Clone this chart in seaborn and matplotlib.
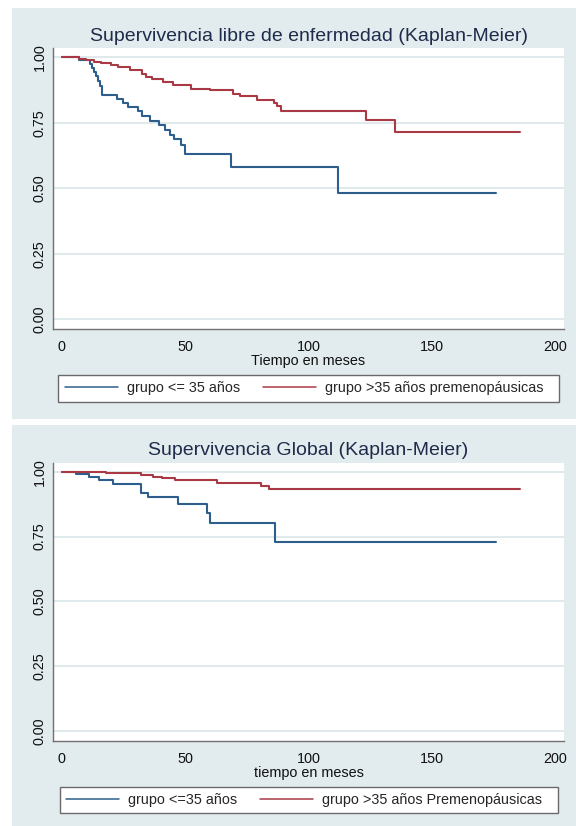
import matplotlib
matplotlib.use("Agg")
import matplotlib.pyplot as plt
from matplotlib.patches import Rectangle
from matplotlib.lines import Line2D
import seaborn as sns
import pandas as pd

# ---------------- data ----------------
titulo_1 = "Supervivencia libre de enfermedad (Kaplan-Meier)"
titulo_2 = "Supervivencia Global (Kaplan-Meier)"
xlabel_1 = "Tiempo en meses"
xlabel_2 = "tiempo en meses"
grupos_1 = ["grupo <= 35 años", "grupo >35 años premenopáusicas"]
grupos_2 = ["grupo <=35 años", "grupo >35 años Premenopáusicas"]
x_ticks = [0, 50, 100, 150, 200]
y_ticks = [0.0, 0.25, 0.5, 0.75, 1.0]
y_ticklabels = ["0.00", "0.25", "0.50", "0.75", "1.00"]

# Disease-free survival
t_dfs_joven = [0, 7, 11.5, 12.3, 13.0, 13.8, 14.6, 15.4, 16.3, 22.5, 25, 27, 31,
               32.5, 36, 39.5, 42, 44, 45.5, 48.5, 50, 68.5, 112, 176]
s_dfs_joven = [1.0, 0.99, 0.975, 0.96, 0.945, 0.93, 0.91, 0.89, 0.857, 0.84, 0.826,
               0.812, 0.795, 0.775, 0.758, 0.742, 0.722, 0.705, 0.687, 0.665, 0.633,
               0.582, 0.483, 0.483]
t_dfs_mayor = [0, 7, 10, 13, 16, 20, 23, 27.5, 32.5, 34, 36.5, 41, 45, 52.5, 60,
               69.5, 72.5, 79, 86, 87.5, 89, 123.5, 135, 186]
s_dfs_mayor = [1.0, 0.996, 0.99, 0.984, 0.977, 0.972, 0.962, 0.951, 0.935, 0.926,
               0.916, 0.907, 0.894, 0.881, 0.875, 0.862, 0.851, 0.838, 0.828, 0.815,
               0.795, 0.760, 0.716, 0.716]

# Overall survival
t_sg_joven = [0, 6, 11, 15, 21, 32, 35, 47.3, 59, 60.2, 86.3, 176]
s_sg_joven = [1.0, 0.99, 0.978, 0.967, 0.954, 0.917, 0.903, 0.877, 0.842, 0.804,
              0.730, 0.730]
t_sg_mayor = [0, 18, 32, 37, 40.5, 46, 63, 81, 84, 186]
s_sg_mayor = [1.0, 0.994, 0.987, 0.981, 0.976, 0.968, 0.958, 0.946, 0.932, 0.932]

# ---------------- style ----------------
sns.set_theme(style="white")
plt.rcParams["font.family"] = ["Liberation Sans", "DejaVu Sans"]

BLUE = "#2e5f8c"
RED = "#a93a45"
BG = "#e2ecee"
GRID = "#dae6ea"
AXC = "#707070"
TITLEC = "#1f2b4a"
FS = 10.4

W, H = 576, 826
fig = plt.figure(figsize=(W / 100, H / 100), dpi=100, facecolor="white")


def fx(px):
    return px / W


def fy(py):
    return 1 - py / H


# panel backgrounds
fig.patches.append(Rectangle((fx(12), fy(419.3)), fx(576 - 12), 411.3 / H,
                             transform=fig.transFigure, facecolor=BG,
                             edgecolor="none", zorder=-3))
fig.patches.append(Rectangle((fx(12), fy(826)), fx(576 - 12), (826 - 425) / H,
                             transform=fig.transFigure, facecolor=BG,
                             edgecolor="none", zorder=-3))


def make_df(t1, s1, t2, s2, names):
    d1 = pd.DataFrame({"tiempo": t1, "supervivencia": s1, "grupo": names[0]})
    d2 = pd.DataFrame({"tiempo": t2, "supervivencia": s2, "grupo": names[1]})
    return pd.concat([d1, d2], ignore_index=True)


def panel(ax_box, df, names, title, xlabel, leg_box, leg_x):
    left, top, right, bottom = ax_box
    ax = fig.add_axes([fx(left), fy(bottom), fx(right - left), (bottom - top) / H])
    ax.set_facecolor("white")
    sns.lineplot(data=df, x="tiempo", y="supervivencia", hue="grupo",
                 hue_order=names, palette=[BLUE, RED], drawstyle="steps-post",
                 estimator=None, sort=False, linewidth=1.5, legend=False, ax=ax)
    ax.set_xlim(-3.65, 203.8)
    ax.set_ylim(-0.037, 1.035)
    ax.set_xticks(x_ticks)
    ax.set_xticklabels([str(v) for v in x_ticks])
    ax.set_yticks(y_ticks)
    ax.set_yticklabels(y_ticklabels)
    for v in y_ticks:
        ax.axhline(v, color=GRID, lw=1.2, zorder=0.5)
    for s in ["top", "right"]:
        ax.spines[s].set_visible(False)
    for s in ["left", "bottom"]:
        ax.spines[s].set_color(AXC)
        ax.spines[s].set_linewidth(1.0)
    ax.tick_params(axis="both", direction="out", length=3.3, width=1.0,
                   color=AXC, labelsize=FS, labelcolor="#111111")
    ax.tick_params(axis="x", pad=4.6)
    ax.tick_params(axis="y", pad=1.2, labelrotation=90)
    for lbl in ax.get_yticklabels():
        lbl.set_va("center")
    ax.set_ylabel("")
    ax.set_xlabel(xlabel, fontsize=FS, color="#111111", labelpad=0.2)
    ax.set_title(title, fontsize=14, color=TITLEC, pad=5.2)

    # legend frame
    lx0, ly0, lx1, ly1 = leg_box
    fig.patches.append(Rectangle((fx(lx0), fy(ly1)), fx(lx1 - lx0), (ly1 - ly0) / H,
                                 transform=fig.transFigure, facecolor="white",
                                 edgecolor="#6a6a6a", lw=1.0, zorder=-2))
    handles = [Line2D([], [], color=BLUE, lw=1.1), Line2D([], [], color=RED, lw=1.1)]
    ax.legend(handles, names, loc="center left",
              bbox_to_anchor=(fx(leg_x), fy((ly0 + ly1) / 2)),
              bbox_transform=fig.transFigure, ncol=2, frameon=False,
              fontsize=FS, handlelength=53 / 14.44, handletextpad=8.7 / 14.44,
              columnspacing=23.5 / 14.44, borderpad=0, borderaxespad=0)
    return ax


df1 = make_df(t_dfs_joven, s_dfs_joven, t_dfs_mayor, s_dfs_mayor, grupos_1)
df2 = make_df(t_sg_joven, s_sg_joven, t_sg_mayor, s_sg_mayor, grupos_2)

panel((52.7, 48.3, 564.3, 329.0), df1, grupos_1, titulo_1, xlabel_1,
      (58.3, 375.0, 558.7, 401.7), 65.0)
panel((52.7, 462.7, 564.3, 740.7), df2, grupos_2, titulo_2, xlabel_2,
      (60.1, 786.7, 557.6, 813.3), 66.0)

fig.savefig("out.png", dpi=100, facecolor="white")
